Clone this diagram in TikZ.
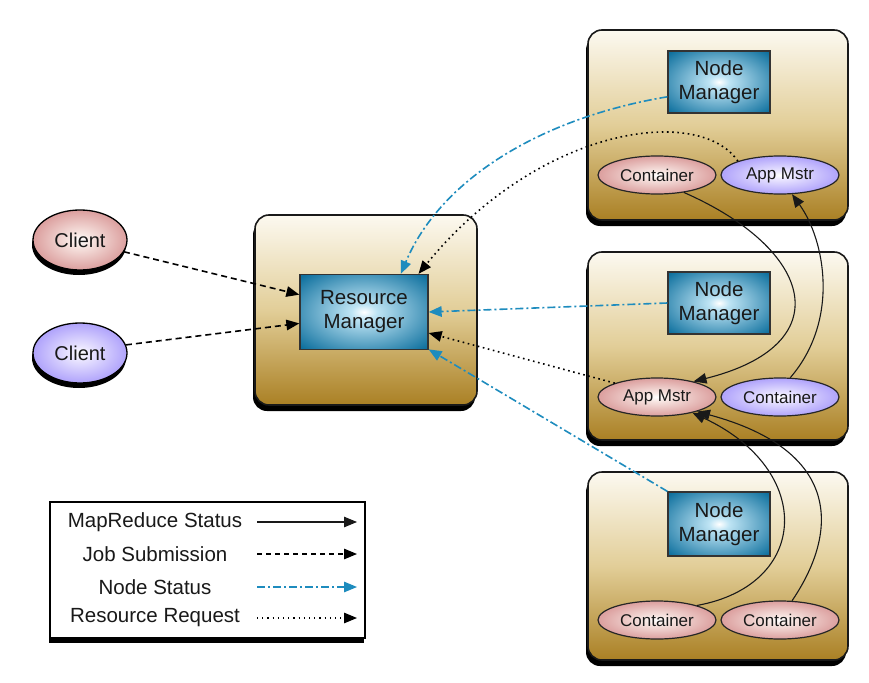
\documentclass[tikz,border=0pt]{standalone}
\usepackage{fontspec}
\setmainfont{Liberation Sans}
\usetikzlibrary{arrows.meta,shapes.geometric,shadows,calc}
\definecolor{txt}{RGB}{25,25,25}
\definecolor{boxtop}{RGB}{252,249,240}
\definecolor{boxmid}{RGB}{226,206,152}
\definecolor{boxbot}{RGB}{170,128,36}
\definecolor{nmblue}{RGB}{14,112,158}
\definecolor{nmlight}{RGB}{190,228,244}
\definecolor{redge}{RGB}{172,72,76}
\definecolor{rmid}{RGB}{212,140,140}
\definecolor{rlight}{RGB}{248,232,228}
\definecolor{bedge}{RGB}{88,58,240}
\definecolor{bmid}{RGB}{160,145,250}
\definecolor{blight}{RGB}{236,232,255}
\definecolor{nsblue}{RGB}{30,140,190}
\pgfdeclareradialshading{nmshade}{\pgfpoint{0bp}{0bp}}{color(0bp)=(white); color(5bp)=(nmlight); color(34bp)=(nmblue); color(70bp)=(nmblue)}
\pgfdeclareradialshading{redshade}{\pgfpoint{0bp}{0bp}}{color(0bp)=(white); color(5bp)=(rlight); color(30bp)=(rmid); color(50bp)=(redge); color(70bp)=(redge)}
\pgfdeclareradialshading{blueshade}{\pgfpoint{0bp}{0bp}}{color(0bp)=(white); color(5bp)=(blight); color(30bp)=(bmid); color(50bp)=(bedge); color(70bp)=(bedge)}
\begin{document}
\begin{tikzpicture}[x=1pt,y=-1pt,
  font=\fontsize{20.5}{24}\selectfont, text=txt,
  >={Triangle[length=13pt,width=10.5pt]},
  machine/.style={draw=black!90, line width=1.6pt, rounded corners=14pt,
    top color=boxtop, bottom color=boxbot, middle color=boxmid,
    drop shadow={shadow xshift=-2pt, shadow yshift=-6pt, fill=black, opacity=1},
    inner sep=0pt},
  mgr/.style={draw=black!80, line width=1.3pt, shading=nmshade, align=center,
    inner sep=0pt},
  ell/.style={ellipse, draw=black!85, line width=1.2pt, inner sep=0pt,
    minimum width=118pt, minimum height=38pt, font=\fontsize{17}{20}\selectfont},
  redell/.style={ell, shading=redshade},
  blueell/.style={ell, shading=blueshade},
  client/.style={ellipse, draw=black, line width=1.3pt, inner sep=0pt,
    minimum width=94pt, minimum height=60pt, font=\fontsize{20}{24}\selectfont,
    drop shadow={shadow xshift=-1pt, shadow yshift=-5pt, fill=black, opacity=1}},
  mrs/.style={draw=black!90, line width=1.1pt, ->},
  jsub/.style={draw=black, line width=1.6pt, dash pattern=on 6pt off 4pt, ->},
  nstat/.style={draw=nsblue, line width=1.6pt, dash pattern=on 8pt off 3pt on 2pt off 3pt, ->},
  rreq/.style={draw=black, line width=1.6pt, dash pattern=on 1.6pt off 3.6pt, ->},
]
\useasboundingbox (0,0) rectangle (869,682);
\fill[white] (0,0) rectangle (869,682);

% machines
\node[machine, minimum width=260pt, minimum height=190pt] (box1) at (718,125) {};
\node[machine, minimum width=260pt, minimum height=188pt] (box2) at (718,346) {};
\node[machine, minimum width=260pt, minimum height=188pt] (box3) at (718,566) {};
\node[machine, minimum width=222pt, minimum height=190pt] (rmbox) at (366,310) {};

% managers
\node[mgr, minimum width=128pt, minimum height=75pt] (rm) at (364,312) {Resource\\Manager};
\node[mgr, minimum width=102pt, minimum height=62pt] (nm1) at (719,82) {Node\\Manager};
\node[mgr, minimum width=102pt, minimum height=62pt] (nm2) at (719,303) {Node\\Manager};
\node[mgr, minimum width=102pt, minimum height=64pt] (nm3) at (719,524) {Node\\Manager};

% containers and app masters
\node[redell] (c1) at (657,175) {Container};
\node[blueell] (am1) at (780,175) {App Mstr};
\node[redell] (am2) at (657,397) {App Mstr};
\node[blueell] (c2) at (780,397) {Container};
\node[redell] (c3a) at (657,620) {Container};
\node[redell] (c3b) at (780,620) {Container};

% clients
\node[client, shading=redshade] (cl1) at (80,240) {Client};
\node[client, shading=blueshade] (cl2) at (80,353) {Client};

% connectors
\draw[jsub] (cl1.-15) -- (rm.165);
\draw[jsub] (cl2.10) -- (rm.190);
\draw[nstat] (nm1.196) .. controls (540,118) and (440,180) .. (rm.46);
\draw[rreq] (am1.north west) .. controls (700,105) and (540,125) .. (rm.35);
\draw[nstat] (nm2.west) -- (rm.east);
\draw[rreq] (am2.north west) -- (rm.-18);
\draw[nstat] (nm3.north west) -- (rm.-30);
\draw[mrs] (c1.-33) .. controls (815,250) and (840,345) .. (am2.23);
\draw[mrs] (c2.62) .. controls (840,320) and (825,240) .. (am1.-58);
\draw[mrs] (c3a.20) .. controls (810,585) and (815,470) .. (am2.-24);
\draw[mrs] (c3b.58) .. controls (840,530) and (840,450) .. (am2.-20);

% legend
\node[draw=black, line width=1.2pt, fill=white, minimum width=315pt, minimum height=136pt,
  drop shadow={shadow xshift=-1pt, shadow yshift=-5pt, fill=black, opacity=1}] (legend) at (207.5,570) {};
\node (lg1) at (155,522) {MapReduce Status};
\node (lg2) at (155,554) {Job Submission};
\node (lg3) at (155,587) {Node Status};
\node (lg4) at (155,618) {Resource Request};
\coordinate (ls1) at (257,522); \coordinate (le1) at (357,522);
\coordinate (ls2) at (257,554); \coordinate (le2) at (357,554);
\coordinate (ls3) at (257,587); \coordinate (le3) at (357,587);
\coordinate (ls4) at (257,618); \coordinate (le4) at (357,618);
\draw[mrs] (ls1) -- (le1);
\draw[jsub, line width=1.2pt, dash pattern=on 5pt off 4pt] (ls2) -- (le2);
\draw[nstat, line width=1.2pt] (ls3) -- (le3);
\draw[rreq, line width=1.2pt, dash pattern=on 1.2pt off 4pt] (ls4) -- (le4);
\end{tikzpicture}
\end{document}
